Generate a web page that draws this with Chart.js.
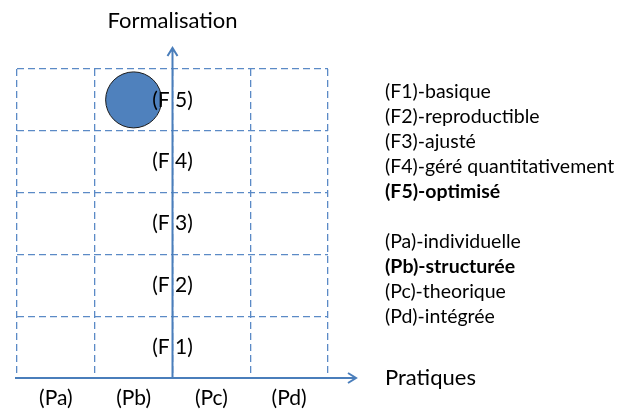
<!DOCTYPE html>
<html>
<head>
<meta charset="utf-8">
<script src="https://cdn.jsdelivr.net/npm/chart.js@4.4.0/dist/chart.umd.min.js"></script>
<style>
html, body { margin: 0; padding: 0; background: #fff; }
#wrap { width: 627px; height: 410px; position: relative; }
</style>
</head>
<body>
<div id="wrap"><canvas id="matrix"></canvas></div>
<script>
// axis categories
var practiceLabels = ['(Pa)', '(Pb)', '(Pc)', '(Pd)'];
var levelLabels = ['(F 1)', '(F 2)', '(F 3)', '(F 4)', '(F 5)'];

// notes on the right
var levelNotes = ['(F1)-basique', '(F2)-reproductible', '(F3)-ajusté', '(F4)-géré quantitativement', '(F5)-optimisé'];
var practiceNotes = ['(Pa)-individuelle', '(Pb)-structurée', '(Pc)-theorique', '(Pd)-intégrée'];

// where the organisation sits
var currentPractice = ['(Pb)'];
var currentLevel = ['(F 5)'];

var FONT = 'Lato, "Open Sans", sans-serif';
var BLUE = '#4a7ebb';

var arrowsAndText = {
    id: 'arrowsAndText',
    beforeDatasetsDraw: function (chart) {
        var ctx = chart.ctx;
        var area = chart.chartArea;
        var midX = (area.left + area.right) / 2;
        ctx.save();
        ctx.strokeStyle = BLUE;
        ctx.lineWidth = 2;
        // vertical axis
        ctx.beginPath();
        ctx.moveTo(midX, area.bottom);
        ctx.lineTo(midX, 48);
        ctx.moveTo(midX - 5, 56);
        ctx.lineTo(midX, 48);
        ctx.lineTo(midX + 5, 56);
        // horizontal axis
        ctx.moveTo(15, area.bottom);
        ctx.lineTo(356, area.bottom);
        ctx.moveTo(348, area.bottom - 5);
        ctx.lineTo(356, area.bottom);
        ctx.lineTo(348, area.bottom + 5);
        ctx.stroke();
        ctx.restore();
    },
    afterDatasetsDraw: function (chart) {
        var ctx = chart.ctx;
        var area = chart.chartArea;
        var midX = (area.left + area.right) / 2;
        var y = chart.scales.y;
        ctx.save();
        ctx.fillStyle = '#000';
        ctx.textAlign = 'center';
        ctx.textBaseline = 'middle';
        ctx.font = '21px ' + FONT;
        for (var i = 0; i < levelLabels.length; i++) {
            ctx.fillText(levelLabels[i], midX, y.getPixelForValue(i));
        }
        ctx.font = '22px ' + FONT;
        ctx.fillText('Formalisation', midX, 21);

        ctx.textAlign = 'left';
        ctx.font = '22px ' + FONT;
        ctx.fillText('Pratiques', 385, area.bottom);

        var line = 92;
        for (var j = 0; j < levelNotes.length; j++) {
            ctx.font = (j === 4 ? 'bold ' : '') + '19.5px ' + FONT;
            ctx.fillText(levelNotes[j], 385, line);
            line += 25;
        }
        line = 242;
        for (var k = 0; k < practiceNotes.length; k++) {
            ctx.font = (k === 1 ? 'bold ' : '') + '19.5px ' + FONT;
            ctx.fillText(practiceNotes[k], 385, line);
            line += 25;
        }
        ctx.restore();
    }
};

var points = [];
for (var p = 0; p < currentPractice.length; p++) {
    points.push({ x: currentPractice[p], y: currentLevel[p] });
}

new Chart(document.getElementById('matrix'), {
    type: 'scatter',
    data: {
        datasets: [{
            data: points,
            pointRadius: 28,
            pointHoverRadius: 28,
            backgroundColor: '#4f81bd',
            borderColor: '#1a1a1a',
            borderWidth: 1,
            clip: false
        }]
    },
    options: {
        responsive: true,
        maintainAspectRatio: false,
        animation: false,
        layout: { autoPadding: false, padding: { left: 17, right: 299, top: 69, bottom: 0 } },
        plugins: { legend: { display: false }, tooltip: { enabled: false } },
        scales: {
            x: {
                type: 'category',
                labels: practiceLabels,
                offset: true,
                border: { display: false, dash: [7, 4] },
                grid: { offset: true, drawTicks: false, color: '#5b8ac6', lineWidth: 1.3 },
                ticks: { color: '#000', font: { size: 21, family: FONT }, padding: 8 },
                afterFit: function (s) {
                    s.height = 32;
                    s.paddingLeft = 0;
                    s.paddingRight = 0;
                }
            },
            y: {
                type: 'category',
                labels: levelLabels,
                reverse: true,
                offset: true,
                border: { display: false, dash: [7, 4] },
                grid: { offset: true, drawTicks: false, color: '#5b8ac6', lineWidth: 1.3 },
                ticks: { display: false },
                afterFit: function (s) {
                    s.width = 0;
                    s.paddingTop = 0;
                    s.paddingBottom = 0;
                }
            }
        }
    },
    plugins: [arrowsAndText]
});
</script>
</body>
</html>
